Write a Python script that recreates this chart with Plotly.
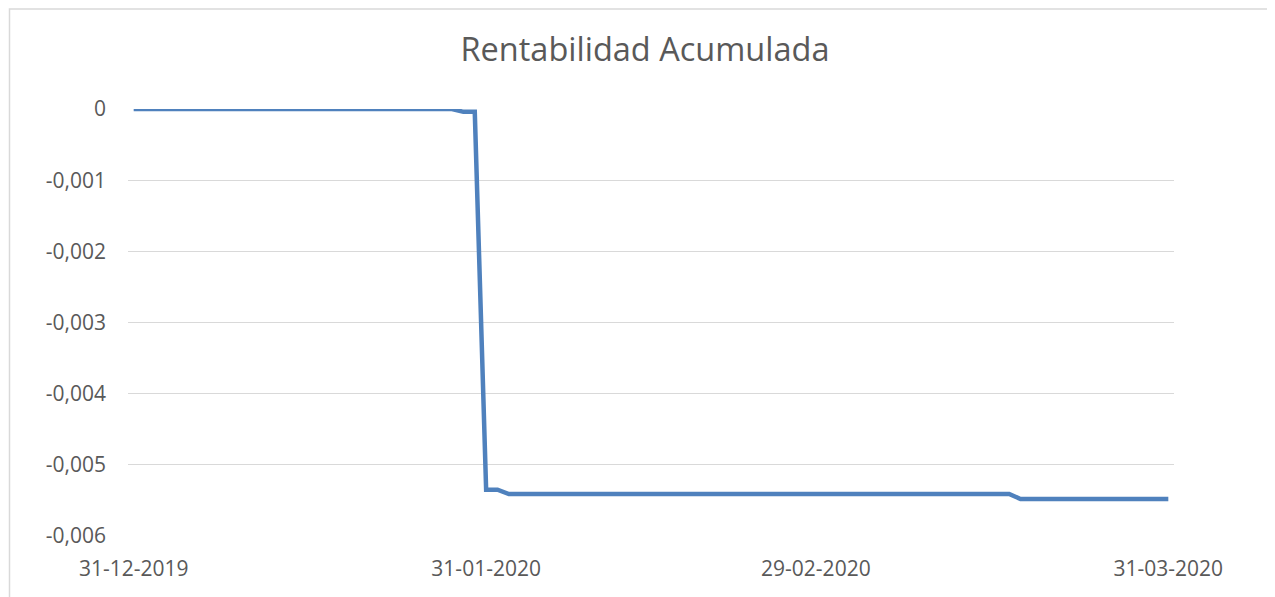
import plotly.graph_objects as go

# Data (daily cumulative return; changes only on these dates)
dates = ["2019-12-31", "2020-01-28", "2020-01-29", "2020-01-30", "2020-01-31",
         "2020-02-01", "2020-02-02", "2020-03-17", "2020-03-18", "2020-03-31"]
values = [0.0, 0.0, -0.00004, -0.00004, -0.00535,
          -0.00535, -0.00541, -0.00541, -0.00548, -0.00548]

y_ticks = [0, -0.001, -0.002, -0.003, -0.004, -0.005, -0.006]
y_labels = ["0", "-0,001", "-0,002", "-0,003", "-0,004", "-0,005", "-0,006"]
x_ticks = ["2019-12-31", "2020-01-31", "2020-02-29", "2020-03-31"]
x_labels = ["31-12-2019", "31-01-2020", "29-02-2020", "31-03-2020"]
x_tickmarks = ["2019-12-30 12:00", "2020-01-30 12:00", "2020-02-28 12:00", "2020-03-30 12:00"]

x_range = ["2019-12-30 12:00", "2020-03-31 12:00"]

GRID = "#D9D9D9"
TEXT = "#595959"
FONT = "Open Sans"

# page body has an 8px margin, so the figure is sized/offset to compensate
W, H = 1267, 589
L, R, T, B = 120, 101, 101, 61
PW, PH = W - L - R, H - T - B

fig = go.Figure()
fig.add_trace(go.Scatter(
    x=dates, y=values, mode="lines",
    line=dict(color="#4F81BD", width=4.5),
    showlegend=False, hoverinfo="skip",
))

fig.update_layout(
    width=W, height=H,
    margin=dict(l=L, r=R, t=T, b=B),
    paper_bgcolor="white", plot_bgcolor="white",
    showlegend=False,
    title=dict(text="Rentabilidad Acumulada", x=637 / W, xref="container", xanchor="center",
               y=1 - 42 / H, yref="container", yanchor="middle",
               font=dict(family=FONT, size=32.5, color=TEXT)),
    xaxis=dict(range=x_range, type="date", tickvals=x_ticks, ticktext=x_labels,
               showgrid=False, showline=False, zeroline=False, ticks="",
               ticklabelstandoff=18,
               tickfont=dict(family=FONT, size=21, color=TEXT)),
    xaxis2=dict(range=x_range, type="date", overlaying="x", side="top",
                tickvals=x_tickmarks, showticklabels=False, ticks="inside",
                ticklen=6, tickwidth=1.3, tickcolor=GRID,
                showgrid=False, showline=True, linecolor=GRID, linewidth=1.3,
                zeroline=False),
    yaxis=dict(range=[-0.006, 0], tickvals=y_ticks, ticktext=y_labels,
               showgrid=True, gridcolor=GRID, gridwidth=1.3,
               showline=False, zeroline=False, ticks="",
               ticklabelstandoff=21,
               tickfont=dict(family=FONT, size=21, color=TEXT)),
    shapes=[dict(type="rect", xref="paper", yref="paper",
                 x0=(1.5 - L) / PW, x1=1.2, y0=-0.3, y1=(PH + T - 1) / PH,
                 line=dict(color=GRID, width=1.5), fillcolor="rgba(0,0,0,0)",
                 layer="below")],
)

fig.write_html("out.html")
